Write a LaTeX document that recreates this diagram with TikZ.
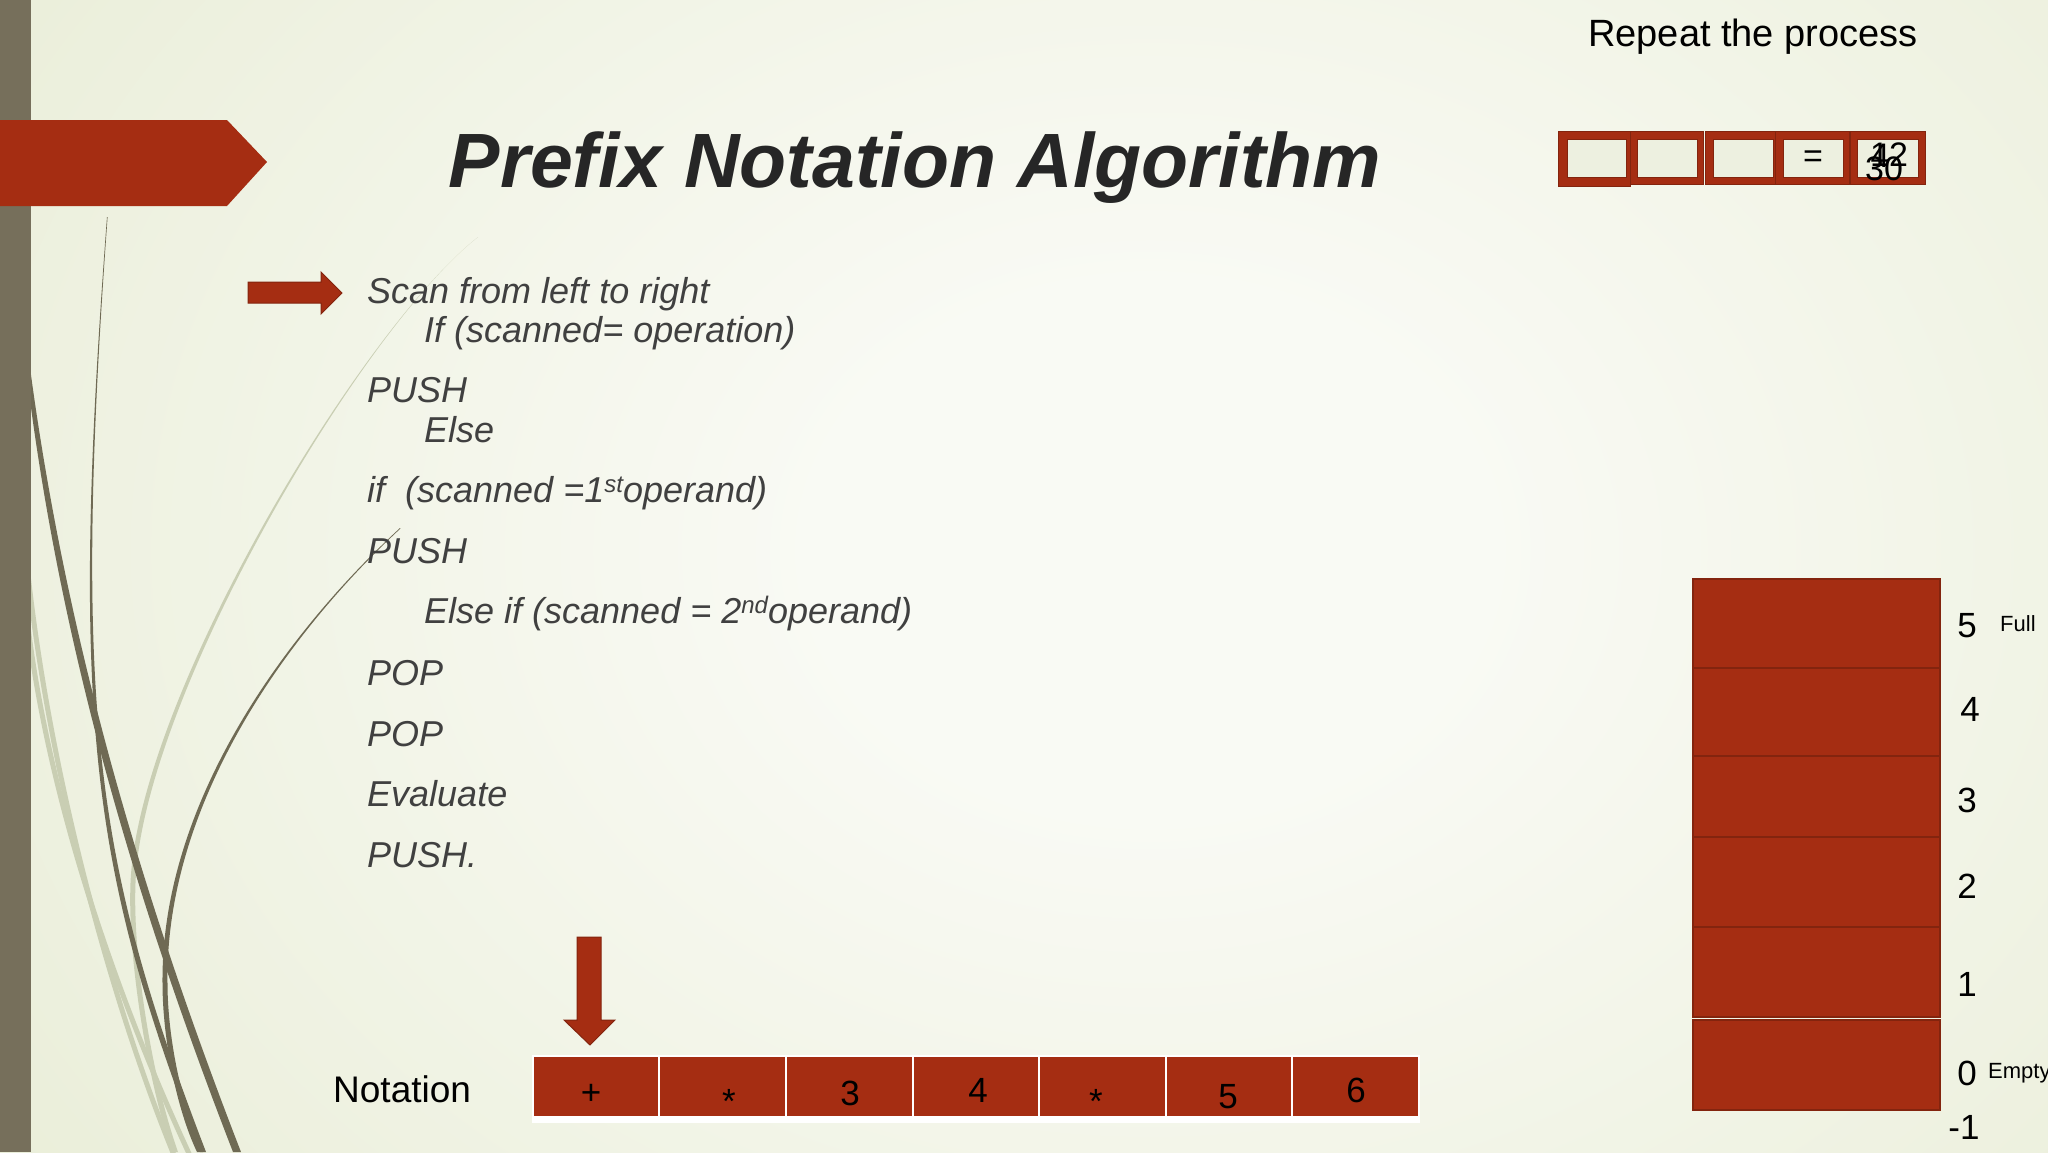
\documentclass[tikz,border=0pt]{standalone}
\usepackage{fontspec}
\setmainfont{Liberation Sans}
\definecolor{bgin}{HTML}{F9FAF4}
\definecolor{bgout}{HTML}{E1E7C9}
\definecolor{slred}{HTML}{A52D12}
\definecolor{slredd}{HTML}{83240E}
\definecolor{barc}{HTML}{766F5B}
\definecolor{curvec}{HTML}{6F6A54}
\definecolor{lightc}{HTML}{C9CEB3}
\definecolor{titlec}{HTML}{262626}
\definecolor{bodyc}{HTML}{404040}
\definecolor{boxin}{HTML}{EDF0E0}
\pgfdeclareradialshading{bgshade}{\pgfpoint{0bp}{0bp}}{color(0bp)=(bgin); color(6bp)=(bgin); color(36bp)=(bgout); color(50bp)=(bgout)}
\newcommand\supr[1]{\raisebox{10pt}{\fontsize{24}{24}\selectfont #1}}
\tikzset{
  body/.style={anchor=base west, inner sep=0pt, text=bodyc, font=\fontsize{36}{43}\selectfont\itshape},
  cellbox/.style={fill=slred, draw=white, line width=2pt},
  cellnum/.style={anchor=base, inner sep=0pt, text=black, font=\fontsize{35}{40}\selectfont},
  stackrow/.style={fill=slred, draw=slredd, line width=1.5pt},
  stacknum/.style={anchor=base, inner sep=0pt, text=black, font=\fontsize{35}{40}\selectfont},
  stacklab/.style={anchor=base west, inner sep=0pt, text=black, font=\fontsize{22}{26}\selectfont},
  resbox/.style={fill=slred, draw=slredd, line width=1pt},
  resin/.style={fill=boxin, draw=slredd, line width=0.8pt},
  restext/.style={inner sep=0pt, text=black, font=\fontsize{34}{40}\selectfont},
}
\begin{document}
\begin{tikzpicture}[x=1pt,y=-1pt]
\useasboundingbox (0,0) rectangle (2048,1152);
% background
\begin{scope}
\clip (0,0) rectangle (2048,1152);
\fill[bgout] (0,0) rectangle (2048,1152);
\shade[shading=bgshade] (-250,-550) rectangle (2550,1650);
% light decorative curves
\fill[lightc] (478,237) .. controls (359,331) and (138,700) .. (130.5,883) .. controls (127.5,960) and (147.5,1080) .. (172,1152) -- (178,1152) .. controls (152.5,1080) and (132.5,960) .. (135.5,883) .. controls (142,700) and (361,329) .. (478,237) -- cycle;
\draw[lightc, line width=5pt] (25,545) .. controls (45,760) and (110,1000) .. (176,1160);
\draw[lightc, line width=5pt] (25,600) .. controls (45,800) and (122,1010) .. (192,1160);
% dark decorative curves
\fill[curvec] (25,360) .. controls (58,643) and (136,902) .. (233,1152) -- (241,1152) .. controls (144,902) and (66,643) .. (29,360) -- cycle;
\fill[curvec] (107,217) .. controls (69,720) and (92,870) .. (200,1152) -- (206,1152) .. controls (98,870) and (71,720) .. (107.6,217) -- cycle;
\fill[curvec] (400,528) .. controls (289,630) and (161,800) .. (162.5,983) .. controls (162.5,1040) and (177,1110) .. (197,1152) -- (203,1152) .. controls (183,1110) and (167.5,1040) .. (167.5,983) .. controls (165,800) and (291,630) .. (400.5,528.5) -- cycle;
\end{scope}
% left bar and banner
\fill[barc] (0,0) rectangle (31,1152);
\fill[slred] (0,120) -- (227,120) -- (267,162) -- (227,206) -- (0,206) -- cycle;
% title
\node[anchor=base, inner sep=0pt, text=titlec, font=\fontsize{77}{90}\selectfont\bfseries\itshape] (title) at (915,187) {Prefix Notation Algorithm};
% scan arrow
\fill[slred, draw=slredd, line width=1pt] (248,282) -- (321,282) -- (321,272) -- (342,293) -- (321,314) -- (321,303) -- (248,303) -- cycle;
% algorithm text
\node[body] (l1) at (367,303) {Scan from left to right};
\node[body] (l2) at (424,342) {If (scanned= operation)};
\node[body] (l3) at (367,402) {PUSH};
\node[body] (l4) at (424,442) {Else};
\node[body] (l5) at (367,502) {if\ \ (scanned =1\supr{st}operand)};
\node[body] (l6) at (367,563) {PUSH};
\node[body] (l7) at (424,623) {Else if (scanned = 2\supr{nd}operand)};
\node[body] (l8) at (367,685) {POP};
\node[body] (l9) at (367,746) {POP};
\node[body] (l10) at (367,806) {Evaluate};
\node[body] (l11) at (367,867) {PUSH.};
% repeat the process
\node[anchor=base west, inner sep=0pt, text=black, font=\fontsize{38}{44}\selectfont] (rep) at (1588,46) {Repeat the process};
% result boxes
\foreach \a/\b in {1558/1630, 1628/1703, 1705/1777, 1775/1849, 1850/1925} {
  \fill[resbox] (\a,131) rectangle (\b,184);
}
\fill[resbox] (1558,131) rectangle (1630,186);
\foreach \a/\b in {1567/1626, 1637/1697, 1713/1773, 1783/1843, 1857/1918} {
  \fill[resin] (\a,139) rectangle (\b,177);
}
\node[restext] (eq) at (1813,159) {=};
\node[restext] (r30) at (1884,169) {30};
\node[restext] (r4) at (1880,156) {4};
\node[restext] (r12) at (1889,155) {12};
% stack
\foreach \t/\bb in {579/668, 668/756, 756/837, 837/927, 927/1017, 1020/1110} {
  \fill[stackrow] (1693,\t) rectangle (1940,\bb);
}
\node[stacknum] (s5) at (1967,637) {5};
\node[stacknum] (s4) at (1970,721) {4};
\node[stacknum] (s3) at (1967,812) {3};
\node[stacknum] (s2) at (1967,898) {2};
\node[stacknum] (s1) at (1967,996) {1};
\node[stacknum] (s0) at (1967,1085) {0};
\node[stacknum] (sm1) at (1964,1139) {-1};
\node[stacklab] (full) at (2000,631) {Full};
\node[stacklab] (empty) at (1988,1078) {Empty};
% notation row
\node[anchor=base west, inner sep=0pt, text=black, font=\fontsize{37}{44}\selectfont] (nlab) at (333,1102) {Notation};
\fill[white] (532,1055) rectangle (1420,1123);
\foreach \a/\b in {533/659, 659/786, 786/913, 913/1039, 1039/1166, 1166/1292, 1292/1419} {
  \fill[slred] (\a+1,1057) rectangle (\b-1,1116);
}
\node[cellnum] (c1) at (591,1104) {+};
\node[cellnum] (c2) at (729,1113) {*};
\node[cellnum] (c3) at (850,1105) {3};
\node[cellnum] (c4) at (978,1102) {4};
\node[cellnum] (c5) at (1096,1113) {*};
\node[cellnum] (c6) at (1228,1108) {5};
\node[cellnum] (c7) at (1356,1102) {6};
% down arrow
\fill[slred, draw=slredd, line width=1pt] (577,937) -- (601,937) -- (601,1020) -- (615,1020) -- (590,1045) -- (564,1020) -- (577,1020) -- cycle;
\end{tikzpicture}
\end{document}
